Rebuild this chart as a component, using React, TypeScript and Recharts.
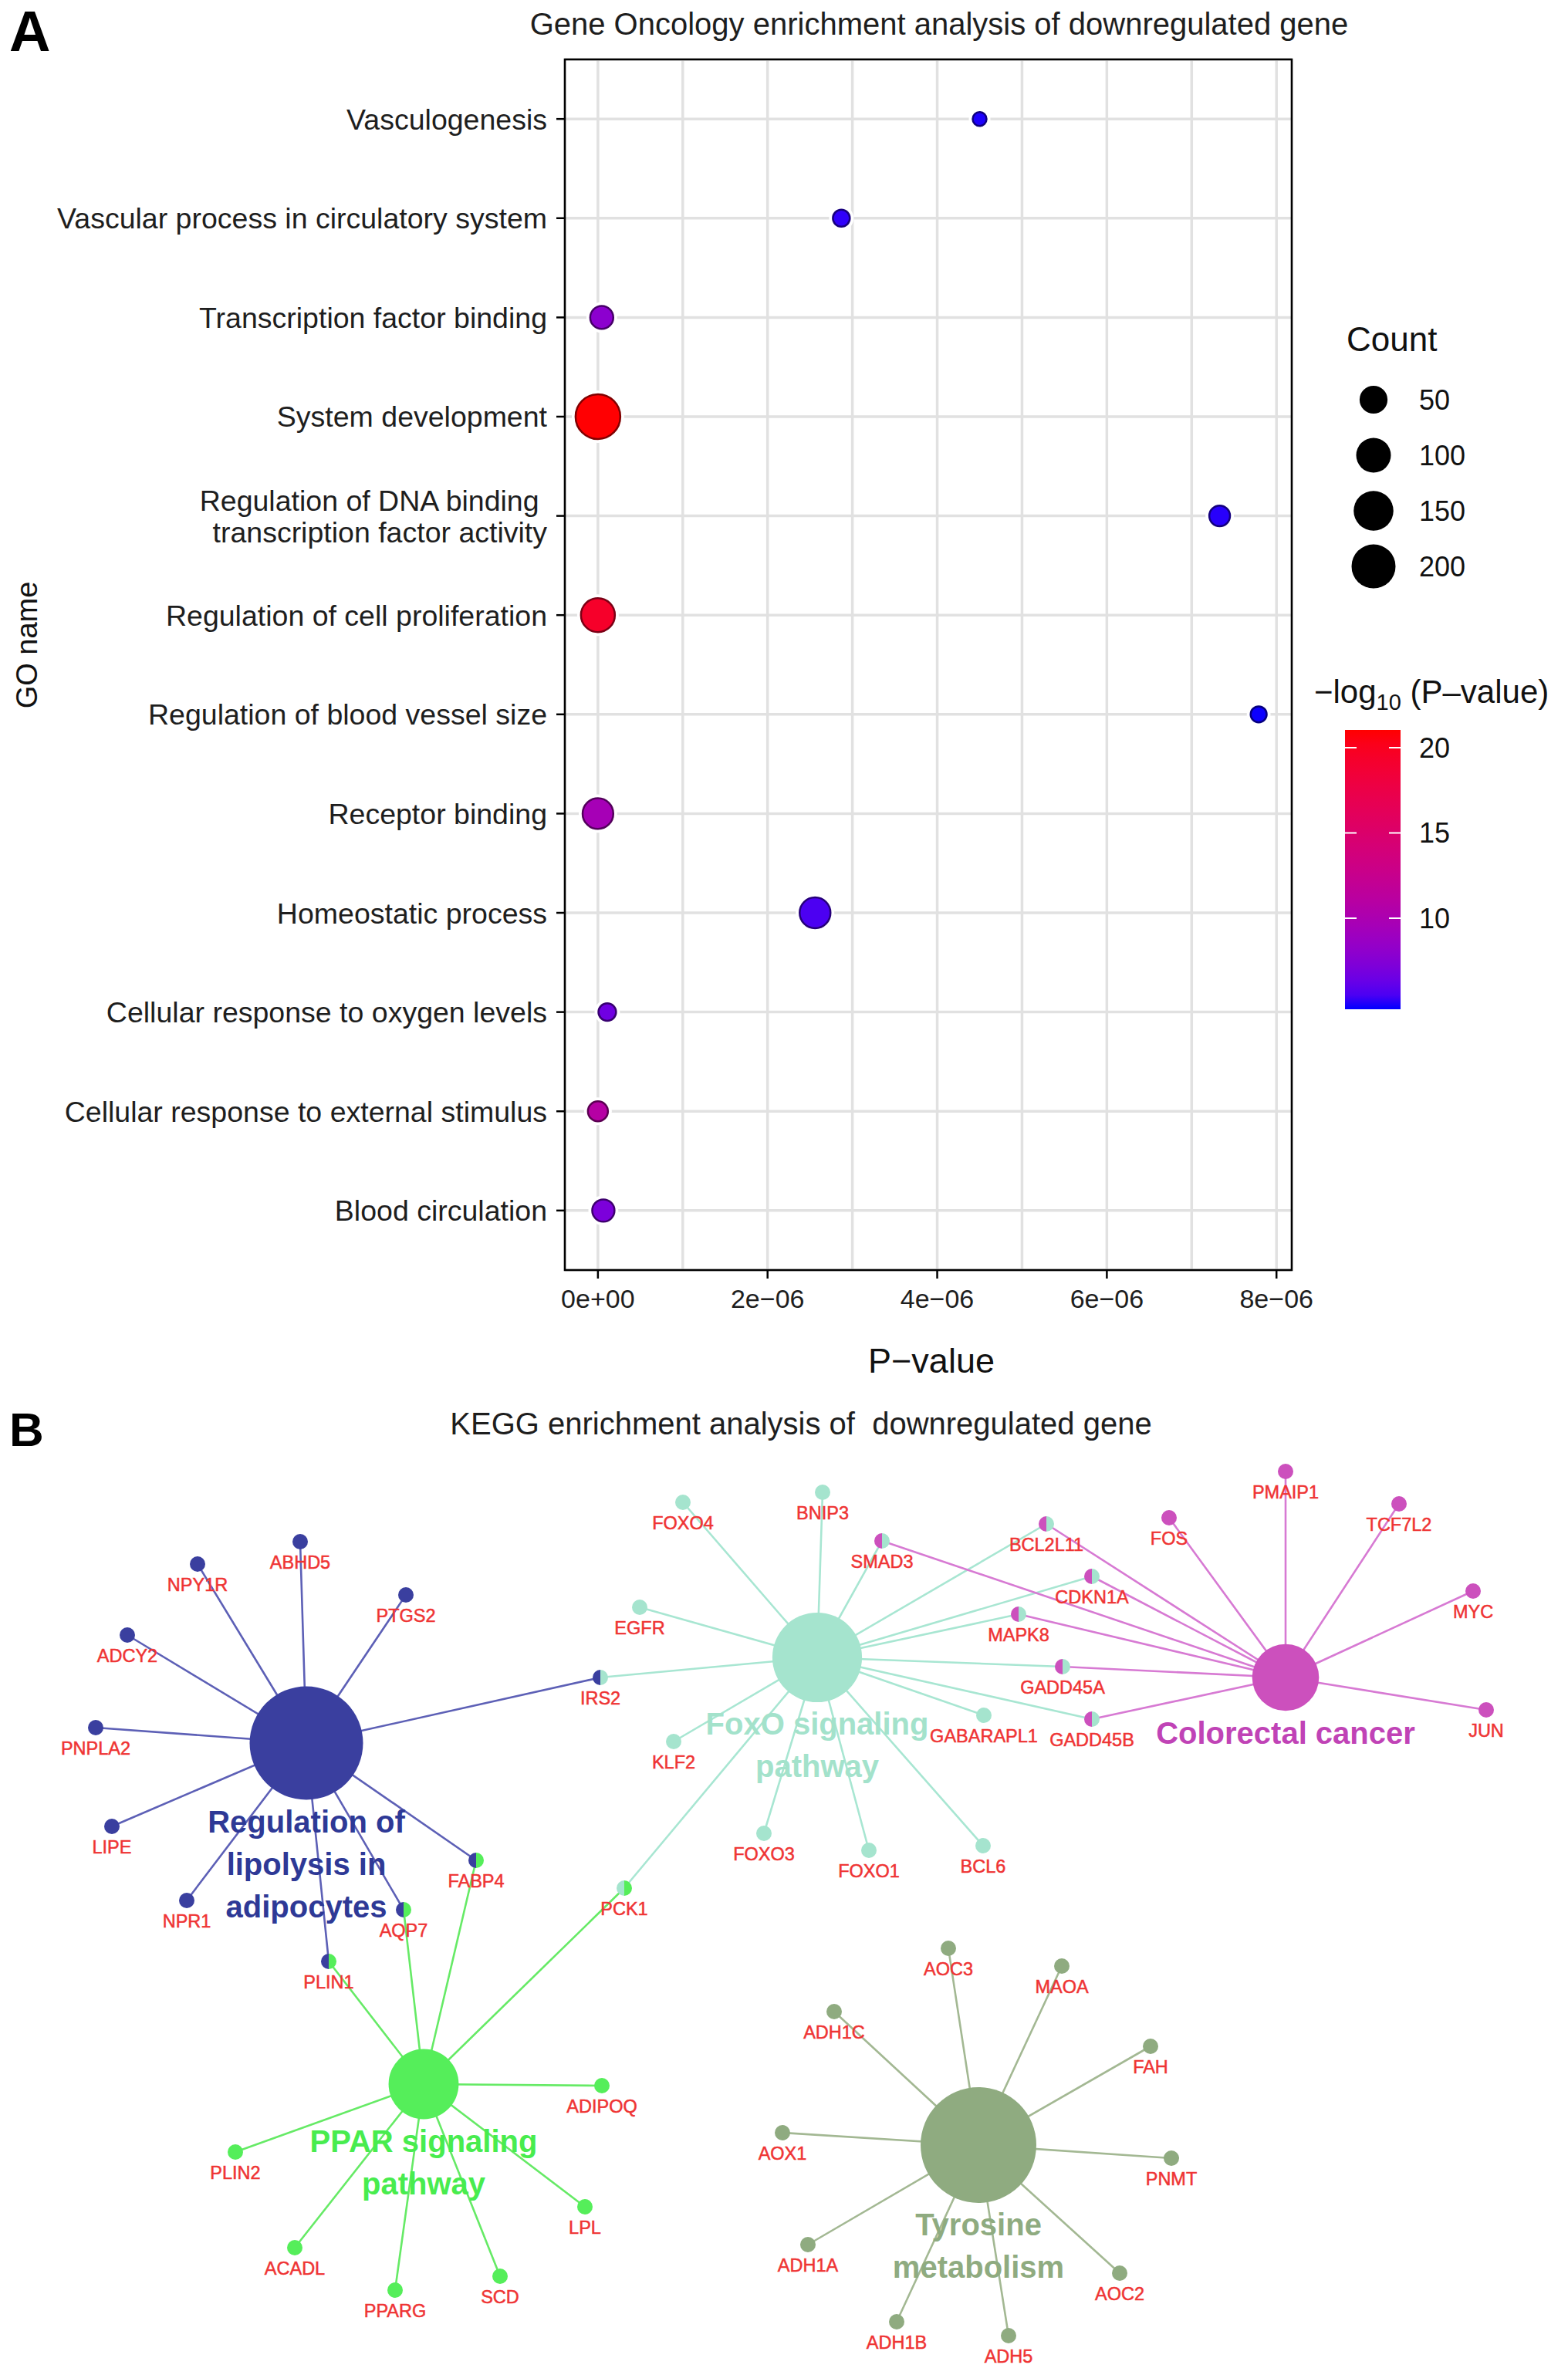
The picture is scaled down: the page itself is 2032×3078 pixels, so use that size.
import React from 'react';
import { ScatterChart, Scatter, XAxis, YAxis, CartesianGrid, ReferenceArea } from 'recharts';

const FONT = '"Liberation Sans", Arial, Helvetica, sans-serif';

// ================= Panel A data =================
const goTerms = [
  'Vasculogenesis',
  'Vascular process in circulatory system',
  'Transcription factor binding',
  'System development',
  'Regulation of DNA binding\u00a0\ntranscription factor activity',
  'Regulation of cell proliferation',
  'Regulation of blood vessel size',
  'Receptor binding',
  'Homeostatic process',
  'Cellular response to oxygen levels',
  'Cellular response to external stimulus',
  'Blood circulation',
];
const goPValues = [4.5e-6, 2.87e-6, 4.5e-8, 1e-21, 7.33e-6, 4e-20, 7.79e-6, 2e-10, 2.56e-6, 1.1e-7, 1e-11, 6.4e-8];
const goCounts = [8, 10, 26, 210, 18, 93, 9, 68, 69, 11, 16, 23];
const goNegLog10 = [4.8, 5.0, 7.9, 21.0, 4.9, 19.4, 4.7, 9.6, 5.5, 6.6, 10.9, 7.1];

const xTickValues = [0, 2e-6, 4e-6, 6e-6, 8e-6];
const xTickLabels = ['0e+00', '2e\u221206', '4e\u221206', '6e\u221206', '8e\u221206'];
const xGridValues = [0, 1e-6, 2e-6, 3e-6, 4e-6, 5e-6, 6e-6, 7e-6, 8e-6];
const xDomain = [-0.39e-6, 8.18e-6];
const rowTicks = goTerms.map((_, i) => i);

const countLegendValues = [50, 100, 150, 200];
const countRange = [8, 210];
const colorTickValues = [10, 15, 20];
const colorRange = [4.66, 21.04];

// ================= Panel B data =================
const keggTerms = [
  'Regulation of lipolysis in adipocytes',
  'FoxO signaling pathway',
  'Colorectal cancer',
  'PPAR signaling pathway',
  'Tyrosine metabolism',
];
const keggTermLines = [
  ['Regulation of', 'lipolysis in', 'adipocytes'],
  ['FoxO signaling', 'pathway'],
  ['Colorectal cancer'],
  ['PPAR signaling', 'pathway'],
  ['Tyrosine', 'metabolism'],
];
// layout coordinates of the network
const keggTermX = [397, 1059, 1666, 549, 1268];
const keggTermY = [2259, 2148, 2174, 2701, 2780];
const keggTermScore = [14.4, 9.0, 5.0, 5.5, 15.0];

const geneNames = [
  'ABHD5', 'NPY1R', 'PTGS2', 'ADCY2', 'PNPLA2', 'LIPE', 'NPR1', 'IRS2', 'FABP4', 'AQP7', 'PLIN1',
  'FOXO4', 'BNIP3', 'EGFR', 'KLF2', 'GABARAPL1', 'FOXO3', 'FOXO1', 'BCL6', 'PCK1',
  'SMAD3', 'BCL2L11', 'CDKN1A', 'MAPK8', 'GADD45A', 'GADD45B',
  'FOS', 'PMAIP1', 'TCF7L2', 'MYC', 'JUN',
  'ADIPOQ', 'PLIN2', 'LPL', 'ACADL', 'PPARG', 'SCD',
  'AOC3', 'MAOA', 'ADH1C', 'FAH', 'AOX1', 'PNMT', 'ADH1A', 'AOC2', 'ADH1B', 'ADH5',
];
const geneX = [
  389, 256, 526, 165, 124, 145, 242, 778, 617, 523, 426,
  885, 1066, 829, 873, 1275, 990, 1126, 1274, 809,
  1143, 1356, 1415, 1320, 1377, 1415,
  1515, 1666, 1813, 1909, 1926,
  780, 305, 758, 382, 512, 648,
  1229, 1376, 1081, 1491, 1014, 1518, 1047, 1451, 1162, 1307,
];
const geneY = [
  1998, 2027, 2067, 2119, 2239, 2367, 2463, 2174, 2411, 2475, 2542,
  1947, 1934, 2083, 2257, 2223, 2376, 2398, 2392, 2447,
  1997, 1975, 2043, 2092, 2160, 2228,
  1967, 1907, 1949, 2062, 2216,
  2703, 2789, 2860, 2913, 2968, 2950,
  2525, 2548, 2607, 2652, 2764, 2797, 2909, 2946, 3009, 3027,
];
const geneTerms = [
  [0], [0], [0], [0], [0], [0], [0], [0, 1], [0, 3], [0, 3], [0, 3],
  [1], [1], [1], [1], [1], [1], [1], [1], [1, 3],
  [2, 1], [2, 1], [2, 1], [2, 1], [2, 1], [2, 1],
  [2], [2], [2], [2], [2],
  [3], [3], [3], [3], [3], [3],
  [4], [4], [4], [4], [4], [4], [4], [4], [4], [4],
];

const termNodeColor = ['#3a3f9f', '#a5e4ce', '#cc50bd', '#55ee5a', '#8fab80'];
const termEdgeColor = ['#5d60b6', '#a8e6d2', '#d77ad3', '#66ea66', '#a3b893'];
const termLabelColor = ['#2e3996', '#a3e2cb', '#c043b6', '#48ec4e', '#8fab80'];

// ================= helpers =================
function toLin(c: number) { c /= 255; return c <= 0.04045 ? c / 12.92 : Math.pow((c + 0.055) / 1.055, 2.4); }
function fromLin(c: number) {
  const v = c <= 0.0031308 ? 12.92 * c : 1.055 * Math.pow(Math.max(c, 0), 1 / 2.4) - 0.055;
  return Math.round(Math.min(1, Math.max(0, v)) * 255);
}
function rgb2lab(rgb: number[]) {
  const R = toLin(rgb[0]), G = toLin(rgb[1]), B = toLin(rgb[2]);
  const X = (0.4124564 * R + 0.3575761 * G + 0.1804375 * B) / 0.95047;
  const Y = 0.2126729 * R + 0.7151522 * G + 0.072175 * B;
  const Z = (0.0193339 * R + 0.119192 * G + 0.9503041 * B) / 1.08883;
  const f = (t: number) => (t > 0.008856 ? Math.cbrt(t) : 7.787 * t + 16 / 116);
  const fx = f(X), fy = f(Y), fz = f(Z);
  return [116 * fy - 16, 500 * (fx - fy), 200 * (fy - fz)];
}
function lab2rgb(lab: number[]) {
  const fy = (lab[0] + 16) / 116, fx = fy + lab[1] / 500, fz = fy - lab[2] / 200;
  const finv = (t: number) => (t * t * t > 0.008856 ? t * t * t : (t - 16 / 116) / 7.787);
  const X = finv(fx) * 0.95047, Y = finv(fy), Z = finv(fz) * 1.08883;
  const R = 3.2404542 * X - 1.5371385 * Y - 0.4985314 * Z;
  const G = -0.969266 * X + 1.8760108 * Y + 0.041556 * Z;
  const B = 0.0556434 * X - 0.2040259 * Y + 1.0572252 * Z;
  return [fromLin(R), fromLin(G), fromLin(B)];
}
const LAB_LOW = rgb2lab([0, 0, 255]);
const LAB_HIGH = rgb2lab([255, 0, 0]);
const hex = (rgb: number[]) => '#' + rgb.map((v) => v.toString(16).padStart(2, '0')).join('');
function colorOf(v: number) {
  const t = Math.min(1, Math.max(0, (v - colorRange[0]) / (colorRange[1] - colorRange[0])));
  return hex(lab2rgb(LAB_LOW.map((l, i) => l + (LAB_HIGH[i] - l) * t)));
}
function darken(h: string, k = 0.5) {
  const n = parseInt(h.slice(1), 16);
  return hex([(n >> 16) & 255, (n >> 8) & 255, n & 255].map((c) => Math.round(c * (1 - k))));
}
const sizeOf = (c: number) =>
  18 + 40 * Math.sqrt(Math.max(0, (c - countRange[0]) / (countRange[1] - countRange[0])));
const termRadius = (s: number) => Math.sqrt(((s / 15) * 17671) / Math.PI);

// ================= table for charts =================
const goData = goTerms.map((name, i) => ({
  row: i, p: goPValues[i], count: goCounts[i], logp: goNegLog10[i], name,
}));
const termData = keggTerms.map((name, i) => ({
  x: keggTermX[i], y: keggTermY[i], score: keggTermScore[i], name, idx: i,
}));
const geneData = geneNames.map((name, i) => ({ x: geneX[i], y: geneY[i], name, terms: geneTerms[i] }));
const edgeData = keggTerms.map((_, t) => {
  const pts: { x: number; y: number }[] = [];
  geneData.forEach((g) => {
    if (g.terms.includes(t)) {
      pts.push({ x: keggTermX[t], y: keggTermY[t] });
      pts.push({ x: g.x, y: g.y });
    }
  });
  return pts;
});

// ================= shapes =================
const GoDot = (props: any) => {
  const { cx, cy, payload } = props;
  if (cx == null || cy == null) return <g />;
  const r = sizeOf(payload.count) / 2;
  const fill = colorOf(payload.logp);
  return (
    <g>
      <circle cx={cx} cy={cy} r={r + 5} fill="#ffffff" />
      <circle cx={cx} cy={cy} r={r} fill={fill} stroke={darken(fill)} strokeWidth={2.5} />
    </g>
  );
};

const GoYTick = (props: any) => {
  const { x, y, payload } = props;
  const label = goTerms[payload.value] ?? '';
  const lines = label.split('\n');
  const lh = 41;
  return (
    <text x={x} y={y} textAnchor="end" fill="#1e1e1e" fontSize={37.5} fontFamily={FONT}>
      {lines.map((ln, i) => (
        <tspan key={i} x={x} y={y + (i - (lines.length - 1) / 2) * lh} dy="0.36em">{ln}</tspan>
      ))}
    </text>
  );
};

const GoXTick = (props: any) => {
  const { x, y, payload } = props;
  const idx = xTickValues.findIndex((v) => Math.abs(v - payload.value) < 1e-12);
  return (
    <text x={x} y={y} dy="0.71em" textAnchor="middle" fill="#1e1e1e" fontSize={34} fontFamily={FONT}>
      {idx >= 0 ? xTickLabels[idx] : ''}
    </text>
  );
};

const NoShape = () => <g />;

const TermNode = (props: any) => {
  const { cx, cy, payload } = props;
  if (cx == null || cy == null) return <g />;
  const r = termRadius(payload.score);
  const i = payload.idx;
  const lines = keggTermLines[i];
  return (
    <g>
      <circle cx={cx} cy={cy} r={r} fill={termNodeColor[i]} />
      <text textAnchor="middle" fill={termLabelColor[i]} fontSize={40} fontWeight="bold" fontFamily={FONT}>
        {lines.map((ln, k) => (
          <tspan key={k} x={cx} y={cy + r + 28 + k * 55} dy="0.36em">{ln}</tspan>
        ))}
      </text>
    </g>
  );
};

const GeneNode = (props: any) => {
  const { cx, cy, payload } = props;
  if (cx == null || cy == null) return <g />;
  const r = 10;
  const t = payload.terms as number[];
  return (
    <g>
      {t.length === 1 ? (
        <circle cx={cx} cy={cy} r={r} fill={termNodeColor[t[0]]} />
      ) : (
        <g>
          <path d={`M ${cx} ${cy - r} A ${r} ${r} 0 0 0 ${cx} ${cy + r} Z`} fill={termNodeColor[t[0]]} />
          <path d={`M ${cx} ${cy - r} A ${r} ${r} 0 0 1 ${cx} ${cy + r} Z`} fill={termNodeColor[t[1]]} />
        </g>
      )}
      <text x={cx} y={cy + 27} dy="0.36em" textAnchor="middle" fill="#ef3434" stroke="#ef3434" strokeWidth={0.5}
        fontSize={23.5} fontFamily={FONT}>
        {payload.name}
      </text>
    </g>
  );
};

// ================= legend geometry =================
const CB_X = 1743, CB_W = 72, CB_TOP = 946, CB_BOTTOM = 1308;
const cbY = (v: number) => CB_BOTTOM - ((v - colorRange[0]) / (colorRange[1] - colorRange[0])) * (CB_BOTTOM - CB_TOP);
const gradStops = Array.from({ length: 21 }, (_, k) => k / 20);

export default function App() {
  return (
    <div style={{ position: 'absolute', left: 0, top: 0, width: 2032, height: 3078, background: '#ffffff', fontFamily: FONT, overflow: 'hidden' }}>
      {/* ---------- Panel A ---------- */}
      <div style={{ position: 'absolute', left: 0, top: 0 }}>
        <ScatterChart width={2032} height={1800} margin={{ top: 77, right: 358, bottom: 54, left: 0 }}>
          <CartesianGrid stroke="#e1e1e1" strokeWidth={3.5} verticalValues={xGridValues} />
          <XAxis
            type="number" dataKey="p" domain={xDomain} allowDataOverflow ticks={xTickValues}
            height={100} tickSize={11} tickMargin={14} tick={<GoXTick />}
            axisLine={false} tickLine={{ stroke: '#000', strokeWidth: 2.5 }}
          />
          <YAxis
            type="number" dataKey="row" domain={[-0.6, 11.6]} allowDataOverflow reversed ticks={rowTicks} interval={0}
            width={732} tickSize={11} tickMargin={12} tick={<GoYTick />}
            axisLine={false} tickLine={{ stroke: '#000', strokeWidth: 2.5 }}
          />
          <Scatter data={goData} shape={<GoDot />} isAnimationActive={false} />
          <ReferenceArea x1={xDomain[0]} x2={xDomain[1]} y1={-0.6} y2={11.6} fill="none" fillOpacity={0} stroke="#000" strokeWidth={2.6} ifOverflow="visible" />
        </ScatterChart>
      </div>
      <svg width={2032} height={1820} style={{ position: 'absolute', left: 0, top: 0, pointerEvents: 'none' }} fontFamily={FONT}>
        <text x={12} y={66} fontSize={74} fontWeight="bold" fill="#000">A</text>
        <text x={1217} y={31} dy="0.36em" textAnchor="middle" fontSize={40} fill="#1e1e1e">Gene Oncology enrichment analysis of downregulated gene</text>
        <text x={1207} y={1763} dy="0.36em" textAnchor="middle" fontSize={45} fill="#111">P{'\u2212'}value</text>
        <text transform="translate(34,836) rotate(-90)" dy="0.36em" textAnchor="middle" fontSize={38} fill="#111">GO name</text>
        {/* size legend */}
        <text x={1745} y={455} fontSize={44} fill="#111">Count</text>
        {countLegendValues.map((c, i) => (
          <g key={c}>
            <circle cx={1780} cy={518 + i * 72} r={sizeOf(c) / 2} fill="#000" />
            <text x={1839} y={518 + i * 72} dy="0.36em" fontSize={36} fill="#111">{c}</text>
          </g>
        ))}
        {/* colour legend */}
        <text x={1703} y={911} fontSize={42} fill="#111">
          {'\u2212log'}
          <tspan fontSize={29} dy={9}>10</tspan>
          <tspan dy={-9}>{' (P\u2013value)'}</tspan>
        </text>
        <defs>
          <linearGradient id="cbar" x1="0" y1="1" x2="0" y2="0">
            {gradStops.map((s) => (
              <stop key={s} offset={s} stopColor={colorOf(colorRange[0] + s * (colorRange[1] - colorRange[0]))} />
            ))}
          </linearGradient>
        </defs>
        <rect x={CB_X} y={CB_TOP} width={CB_W} height={CB_BOTTOM - CB_TOP} fill="url(#cbar)" />
        {colorTickValues.map((v) => (
          <g key={v}>
            <line x1={CB_X} x2={CB_X + 15} y1={cbY(v)} y2={cbY(v)} stroke="#ffffff" strokeWidth={2} />
            <line x1={CB_X + CB_W - 15} x2={CB_X + CB_W} y1={cbY(v)} y2={cbY(v)} stroke="#ffffff" strokeWidth={2} />
            <text x={1839} y={cbY(v)} dy="0.36em" fontSize={36} fill="#111">{v}</text>
          </g>
        ))}
      </svg>

      {/* ---------- Panel B ---------- */}
      <div style={{ position: 'absolute', left: 0, top: 1828 }}>
        <ScatterChart width={2032} height={1250} margin={{ top: 0, right: 0, bottom: 0, left: 0 }}>
          <XAxis type="number" dataKey="x" domain={[0, 2032]} allowDataOverflow hide />
          <YAxis type="number" dataKey="y" domain={[1828, 3078]} allowDataOverflow reversed hide />
          {edgeData.map((pts, t) => (
            <Scatter
              key={'e' + t} data={pts} shape={<NoShape />} line={{ stroke: termEdgeColor[t], strokeWidth: 2.6 }}
              lineType="joint" isAnimationActive={false}
            />
          ))}
          <Scatter data={termData} shape={<TermNode />} isAnimationActive={false} />
          <Scatter data={geneData} shape={<GeneNode />} isAnimationActive={false} />
        </ScatterChart>
      </div>
      <svg width={2032} height={120} style={{ position: 'absolute', left: 0, top: 1800, pointerEvents: 'none' }} fontFamily={FONT}>
        <text x={12} y={74} fontSize={62} fontWeight="bold" fill="#000">B</text>
        <text x={1038} y={45} dy="0.36em" textAnchor="middle" fontSize={40} fill="#1e1e1e">{'KEGG enrichment analysis of\u00a0 downregulated gene'}</text>
      </svg>
    </div>
  );
}
